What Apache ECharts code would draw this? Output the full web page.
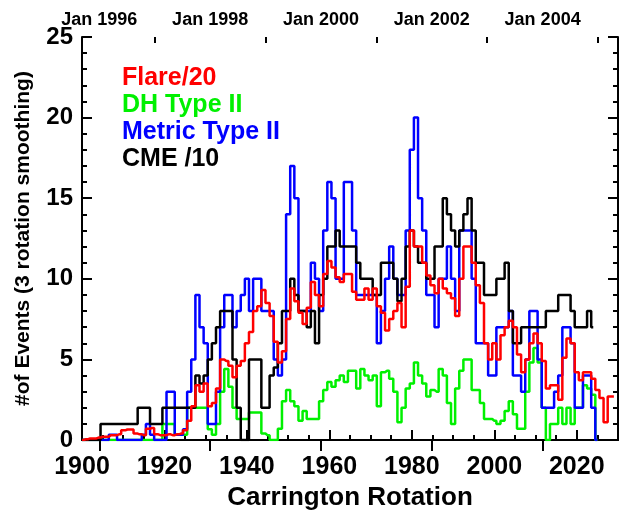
<!DOCTYPE html>
<html>
<head>
<meta charset="utf-8">
<script src="https://cdn.jsdelivr.net/npm/echarts@6/dist/echarts.min.js"></script>
<style>
  html, body { margin: 0; padding: 0; background: #ffffff; }
  #chart { width: 620px; height: 510px; }
</style>
</head>
<body>
<div id="chart"></div>
<script>
// Carrington rotation of the first value in every series
const crStart = 1900;

// Flare/20, one value per rotation from 1900
const flare = [
  0, 0.05, 0.1, 0.1, 0.15, 0.2, 0.2, 0.3, 0.3, 0.35,
  0.6, 0.65, 0.65, 0.4, 0.35, 0.3, 0.7, 0.75, 0.35, 0.3,
  0.3, 0.35, 0.3, 0.35, 0.4, 0.6, 1.2, 2.1, 3.4, 3.0,
  3.5, 2.1, 2.3, 3.2, 5.0, 4.9, 4.6, 3.9, 4.6, 4.9,
  6.0, 6.7, 8.0, 8.3, 9.3, 8.5, 7.7, 6.1, 4.8, 5.5,
  7.5, 9.4, 8.6, 7.9, 7.2, 8.2, 9.8, 9.0, 8.3, 10.3,
  11.1, 10.7, 10.1, 9.8, 10.3, 10.3, 9.2, 8.7, 8.7, 9.4,
  8.7, 9.4, 8.3, 7.9, 6.8, 7.5, 8.0, 8.5, 7.0, 9.5,
  13.0, 12.0, 12.0, 11.0, 10.2, 9.6, 9.1, 10.0, 9.4, 9.1,
  8.8, 7.7, 10.0, 12.0, 12.0, 11.0, 9.6, 8.5, 6.0, 5.0,
  6.0, 5.0, 6.5, 7.0, 7.4, 7.0, 5.3, 4.2, 5.0, 6.0,
  6.6, 6.0, 4.9, 3.2, 3.4, 3.4, 2.5, 5.1, 6.3, 6.0,
  4.2, 3.7, 4.2, 4.2, 3.8, 3.1, 2.6, 1.1, 2.7, 2.7
];

// DH Type II
const dhType2 = [
  0, 0, 0, 0, 0, 0, 0, 0, 0, 0,
  0, 0, 0, 0, 0, 0, 0, 0, 0, 0,
  1, 1, 1, 0.33, 0.33, 0.33, 2, 2, 2, 2,
  2, 0.67, 0.33, 1, 3, 4.4, 3.3, 2, 1.3, 1.3,
  1.3, 1.7, 1.7, 1.7, 0.4, 0.3, 0, 0, 0.7, 2.4,
  3.1, 2.4, 2.1, 1.2, 1.8, 1.3, 1.3, 1.3, 2.4, 3.1,
  3.6, 3.3, 3.7, 4.0, 3.6, 4.3, 4.3, 3.2, 4.4, 4.0,
  3.7, 4.0, 2.1, 4.2, 4.3, 3.8, 3.0, 1.1, 2.0, 3.2,
  3.5, 4.8, 4.0, 3.5, 2.7, 3.1, 3.0, 4.4, 4.0, 2.3,
  1.0, 3.2, 4.3, 5.0, 5.0, 3.1, 3.1, 2.3, 1.3, 1.3,
  1.2, 1.0, 1.2, 1.8, 2.4, 1.6, 0.7, 0.7, 3.0, 4.8,
  5.7, 4.8, 2.0, 0, 1, 1, 2, 1, 2, 1,
  2, 2, 3.4, 3.2, 2.8, 0
];

// Metric Type II
const metricType2 = [
  0, 0, 0, 0, 0, 0, 0, 0.33, 0.33, 0,
  0, 0, 0, 0, 0, 0.33, 1, 0.33, 0, 0,
  0, 3, 3, 0.33, 0.33, 0.67, 3, 5, 9, 7,
  6, 1, 1, 3, 7, 9, 9, 7, 8, 9,
  10, 8, 10, 10, 8, 8, 8, 5, 4, 5,
  14, 17, 15, 8, 8, 8, 11, 10, 8, 13,
  16, 15, 10, 10, 16, 16, 13, 9, 9, 9,
  9, 9, 6, 8, 10, 12, 10, 9, 9, 13,
  18, 20, 15, 13, 9, 9, 7, 10, 10, 12,
  10, 8, 13, 13, 13, 10, 6, 6, 6, 4,
  4, 7, 7, 7, 8, 4, 4, 3, 5, 8,
  8, 5, 2, 2, 2, 3, 4, 7, 7, 6,
  2, 2, 4, 4, 2, 0
];

// CME /10
const cme = [
  0, 0, 0, 0, 0, 1, 1, 1, 1, 1,
  1, 1, 1, 1, 2, 2, 2, 1, 1, 1,
  2, 2, 2, 2, 2, 2, 2, 2, 4, 3.5,
  4, 5, 6, 7, 8, 8, 8, 5, 2, 0,
  0, 5, 5, 5, 2, 2, 4, 4.5, 6, 8,
  8, 10, 9, 8, 8, 7, 8, 6, 9, 10,
  12, 12, 13, 12, 12, 12, 12, 11, 10, 10,
  10, 9, 9, 11, 11, 11, 10, 8.6, 10, 12,
  13, 12, 11, 11, 10, 10, 12, 12, 15, 14,
  13, 12, 13, 14, 15, 13, 11, 11, 9, 9,
  9, 10, 10, 11, 8, 6, 6, 7, 7, 7,
  7, 7, 7, 8, 8, 8, 9, 9, 9, 8,
  7, 7, 7, 8, 7
];

// top date axis: Carrington rotation at Jan 1996 and rotations per year
const crJan1996 = 1904.2;
const crPerYear = 13.44;
const topLabelYears = [1996, 1998, 2000, 2002, 2004];
const topMinorYears = [1997, 1999, 2001, 2003, 2005];

const crMin = 1900;
const crMax = 2030;
const yearMin = 1996 + (crMin - crJan1996) / crPerYear;
const yearMax = 1996 + (crMax - crJan1996) / crPerYear;

const toPairs = arr => arr.map((v, i) => [crStart + i, v]);

const FONT = '"Liberation Sans", Arial, Helvetica, sans-serif';
const lineW = 2.5;
const GREEN = '#00f000';

const chart = echarts.init(document.getElementById('chart'), null, {renderer: 'canvas'});

const frameAxisLine = {show: true, lineStyle: {color: '#000', width: 2}};

const option = {
  animation: false,
  backgroundColor: '#ffffff',
  grid: {left: 82, right: 2, top: 37, bottom: 70, containLabel: false, outerBoundsMode: 'none'},
  legend: {
    orient: 'vertical',
    left: 112,
    top: 60,
    itemWidth: 0,
    itemHeight: 0,
    itemGap: 0,
    icon: 'rect',
    selectedMode: false,
    data: [
      {name: 'Flare/20', textStyle: {color: '#ff0000'}},
      {name: 'DH Type II', textStyle: {color: GREEN}},
      {name: 'Metric Type II', textStyle: {color: '#0000ff'}},
      {name: 'CME /10', textStyle: {color: '#000000'}}
    ],
    textStyle: {fontFamily: FONT, fontSize: 25, fontWeight: 'bold', lineHeight: 27, padding: 0}
  },
  xAxis: [
    {
      type: 'value',
      position: 'bottom',
      min: crMin,
      max: crMax,
      interval: 20,
      name: 'Carrington Rotation',
      nameLocation: 'middle',
      nameGap: 37,
      nameTextStyle: {fontFamily: FONT, fontSize: 26, fontWeight: 'bold', color: '#000'},
      axisLine: frameAxisLine,
      axisTick: {show: true, inside: true, length: 10, lineStyle: {color: '#000', width: 2}},
      minorTick: {show: true, splitNumber: 4, length: 5, lineStyle: {color: '#000', width: 2}},
      axisLabel: {
        margin: 15,
        fontFamily: FONT, fontSize: 25, fontWeight: 'bold', color: '#000',
        formatter: v => (v > crMax - 1 ? '' : String(v))
      },
      splitLine: {show: false}
    },
    {
      type: 'value',
      position: 'top',
      min: yearMin,
      max: yearMax,
      axisLine: frameAxisLine,
      axisTick: {show: true, inside: true, length: 11, customValues: topLabelYears,
        lineStyle: {color: '#000', width: 2}},
      axisLabel: {
        show: true, margin: 8, customValues: topLabelYears,
        fontFamily: FONT, fontSize: 18, fontWeight: 'bold', color: '#000',
        formatter: v => 'Jan ' + Math.round(v)
      },
      splitLine: {show: false}
    },
    {
      type: 'value',
      position: 'top',
      min: yearMin,
      max: yearMax,
      axisLine: {show: false},
      axisTick: {show: true, inside: true, length: 6, customValues: topMinorYears,
        lineStyle: {color: '#000', width: 2}},
      axisLabel: {show: false},
      splitLine: {show: false}
    }
  ],
  yAxis: [
    {
      type: 'value',
      position: 'left',
      min: 0,
      max: 25,
      interval: 5,
      name: '#of Events (3 rotation smoothing)',
      nameLocation: 'middle',
      nameGap: 48,
      nameTextStyle: {fontFamily: FONT, fontSize: 21, fontWeight: 'bold', color: '#000'},
      axisLine: frameAxisLine,
      axisTick: {show: true, inside: true, length: 10, lineStyle: {color: '#000', width: 2}},
      minorTick: {show: true, splitNumber: 5, length: 5, lineStyle: {color: '#000', width: 2}},
      axisLabel: {margin: 9, fontFamily: FONT, fontSize: 24, fontWeight: 'bold', color: '#000'},
      splitLine: {show: false}
    },
    {
      type: 'value',
      position: 'right',
      min: 0,
      max: 25,
      interval: 5,
      axisLine: frameAxisLine,
      axisTick: {show: true, inside: true, length: 10, lineStyle: {color: '#000', width: 2}},
      minorTick: {show: true, splitNumber: 5, length: 5, lineStyle: {color: '#000', width: 2}},
      axisLabel: {show: false},
      splitLine: {show: false}
    }
  ],
  series: [
    {
      name: 'Flare/20', type: 'line', step: 'middle', showSymbol: false, z: 5,
      lineStyle: {color: '#ff0000', width: lineW}, itemStyle: {color: '#ff0000'},
      data: toPairs(flare)
    },
    {
      name: 'DH Type II', type: 'line', step: 'middle', showSymbol: false, z: 2,
      lineStyle: {color: GREEN, width: lineW}, itemStyle: {color: GREEN},
      data: toPairs(dhType2)
    },
    {
      name: 'Metric Type II', type: 'line', step: 'middle', showSymbol: false, z: 3,
      lineStyle: {color: '#0000ff', width: lineW}, itemStyle: {color: '#0000ff'},
      data: toPairs(metricType2)
    },
    {
      name: 'CME /10', type: 'line', step: 'middle', showSymbol: false, z: 4,
      lineStyle: {color: '#000000', width: lineW}, itemStyle: {color: '#000000'},
      data: toPairs(cme)
    }
  ]
};

chart.setOption(option);
</script>
</body>
</html>
